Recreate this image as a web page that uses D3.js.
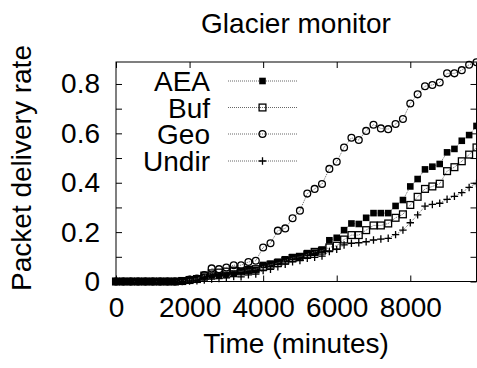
<!DOCTYPE html>
<html>
<head>
<meta charset="UTF-8">
<title>Glacier monitor</title>
<script src="https://d3js.org/d3.v7.min.js"></script>
<style>
  body { margin: 0; background: #fff; }
  svg { display: block; }
  text { font-family: "Liberation Sans", Arial, Helvetica, sans-serif; fill: #000; }
</style>
</head>
<body>
<svg id="chart" width="477" height="368"></svg>
<script>
// sample times (minutes)
var times = [0, 200, 400, 600, 800, 1000, 1200, 1400, 1600, 1800,
  2000, 2200, 2400, 2600, 2800, 3000, 3200, 3400, 3600, 3800,
  4000, 4200, 4400, 4600, 4800, 5000, 5200, 5400, 5600, 5800,
  6000, 6200, 6400, 6600, 6800, 7000, 7200, 7400, 7600, 7800,
  8000, 8200, 8400, 8600, 8800, 9000, 9200, 9400, 9600, 9800];

var aea = [0, 0, 0, 0, 0, 0, 0, 0, 0, 0.002,
  0.008, 0.01, 0.02, 0.024, 0.025, 0.027, 0.033, 0.042, 0.046, 0.047,
  0.067, 0.072, 0.08, 0.09, 0.099, 0.1, 0.115, 0.117, 0.129, 0.167,
  0.177, 0.208, 0.235, 0.233, 0.258, 0.277, 0.277, 0.277, 0.306, 0.33,
  0.385, 0.415, 0.454, 0.465, 0.476, 0.523, 0.537, 0.57, 0.593, 0.63];

var buf = [0, 0, 0, 0, 0, 0, 0, 0, 0, 0.002,
  0.006, 0.01, 0.024, 0.033, 0.036, 0.04, 0.044, 0.041, 0.047, 0.05,
  0.06, 0.068, 0.075, 0.085, 0.095, 0.1, 0.11, 0.12, 0.125, 0.138,
  0.145, 0.17, 0.188, 0.188, 0.208, 0.227, 0.227, 0.235, 0.258, 0.272,
  0.31, 0.343, 0.375, 0.385, 0.396, 0.447, 0.463, 0.487, 0.514, 0.543];

var geo = [0, 0, 0, 0, 0, 0, 0, 0, 0, 0.002,
  0.008, 0.012, 0.026, 0.053, 0.05, 0.057, 0.066, 0.066, 0.079, 0.084,
  0.138, 0.155, 0.206, 0.215, 0.256, 0.287, 0.356, 0.375, 0.395, 0.456,
  0.485, 0.543, 0.582, 0.573, 0.61, 0.635, 0.62, 0.617, 0.638, 0.658,
  0.721, 0.758, 0.791, 0.796, 0.806, 0.843, 0.843, 0.856, 0.878, 0.888];

var undir = [0, 0, 0, 0, 0, 0, 0, 0, 0, 0,
  0.002, 0.003, 0.006, 0.01, 0.012, 0.015, 0.02, 0.019, 0.027, 0.03,
  0.044, 0.049, 0.06, 0.07, 0.08, 0.085, 0.094, 0.098, 0.103, 0.121,
  0.13, 0.148, 0.155, 0.157, 0.161, 0.168, 0.172, 0.175, 0.19, 0.208,
  0.238, 0.27, 0.305, 0.312, 0.317, 0.333, 0.345, 0.36, 0.381, 0.397];

var seriesNames = ["AEA", "Buf", "Geo", "Undir"];
var seriesMarks = ["fsquare", "osquare", "circle", "plus"];
var xTicks = [0, 2000, 4000, 6000, 8000];
var yTicks = [0, 0.1, 0.2, 0.3, 0.4, 0.5, 0.6, 0.7, 0.8];
var yLabels = ["0", "0.2", "0.4", "0.6", "0.8"];

var allSeries = [aea, buf, geo, undir];

var svg = d3.select("#chart");
var pLeft = 116, pRight = 476.5, pTop = 62, pBottom = 281.5;
var fs = 28;

var x = d3.scaleLinear().domain([0, 9800]).range([pLeft, pRight]);
var y = d3.scaleLinear().domain([0, 0.889]).range([pBottom, pTop]);

function axisStyle(g) {
    g.select(".domain").remove();
    g.selectAll(".tick line").attr("stroke", "#000").attr("stroke-width", 1);
    g.selectAll("text").style("font-size", fs + "px").attr("fill", "#000")
        .style("font-family", "'Liberation Sans', Arial, sans-serif");
}

svg.append("g").attr("transform", "translate(0," + pBottom + ")")
    .call(d3.axisBottom(x).tickValues(xTicks).tickSize(-6).tickPadding(16).tickFormat(d3.format("d")))
    .call(axisStyle);
svg.append("g").attr("transform", "translate(0," + pTop + ")")
    .call(d3.axisTop(x).tickValues(xTicks).tickSize(-6).tickFormat(""))
    .call(axisStyle);
svg.append("g").attr("transform", "translate(" + pLeft + ",0)")
    .call(d3.axisLeft(y).tickValues(yTicks).tickSize(-6).tickPadding(16)
        .tickFormat(function (d) {
            var s = d3.format(".1f")(d);
            if (d === 0) s = "0";
            return yLabels.indexOf(s) >= 0 ? s : "";
        }))
    .call(axisStyle);
svg.append("g").attr("transform", "translate(" + pRight + ",0)")
    .call(d3.axisRight(y).tickValues(yTicks).tickSize(-6).tickFormat(""))
    .call(axisStyle);

// frame
svg.append("rect")
    .attr("x", pLeft).attr("y", pTop)
    .attr("width", pRight - pLeft).attr("height", pBottom - pTop)
    .attr("fill", "none").attr("stroke", "#000").attr("stroke-width", 1);

function drawMark(g, kind, cx, cy) {
    if (kind == "fsquare") {
        g.append("rect").attr("x", cx - 3.3).attr("y", cy - 3.3).attr("width", 6.6).attr("height", 6.6)
            .attr("fill", "#000");
    } else if (kind == "osquare") {
        g.append("rect").attr("x", cx - 3.4).attr("y", cy - 3.4).attr("width", 6.8).attr("height", 6.8)
            .attr("fill", "none").attr("stroke", "#000").attr("stroke-width", 1.3);
    } else if (kind == "circle") {
        g.append("circle").attr("cx", cx).attr("cy", cy).attr("r", 3.4)
            .attr("fill", "none").attr("stroke", "#000").attr("stroke-width", 1.3);
    } else {
        g.append("path").attr("d", "M" + (cx - 3.7) + "," + cy + "H" + (cx + 3.7) +
            "M" + cx + "," + (cy - 3.7) + "V" + (cy + 3.7))
            .attr("stroke", "#000").attr("stroke-width", 1.3);
    }
}

var line = d3.line()
    .x(function (d, i) { return x(times[i]); })
    .y(function (d) { return y(d); });

var plot = svg.append("g");
allSeries.forEach(function (vals, k) {
    plot.append("path").attr("d", line(vals))
        .attr("fill", "none").attr("stroke", "#666").attr("stroke-width", 1)
        .attr("stroke-dasharray", "1,1");
    var mg = plot.append("g");
    vals.forEach(function (v, i) {
        drawMark(mg, seriesMarks[k], x(times[i]), y(v));
    });
});

// legend
var legY = [81, 107.5, 134, 161];
var legend = svg.append("g");
seriesNames.forEach(function (name, k) {
    legend.append("text").attr("x", 210).attr("y", legY[k] + 10)
        .attr("text-anchor", "end").style("font-size", fs + "px").text(name);
    legend.append("line").attr("x1", 228).attr("x2", 297)
        .attr("y1", legY[k]).attr("y2", legY[k])
        .attr("stroke", "#666").attr("stroke-width", 1).attr("stroke-dasharray", "1,1");
    drawMark(legend, seriesMarks[k], 262.5, legY[k]);
});

// titles
svg.append("text").attr("x", 296).attr("y", 33).attr("text-anchor", "middle")
    .style("font-size", fs + "px").text("Glacier monitor");
svg.append("text").attr("x", 296).attr("y", 353).attr("text-anchor", "middle")
    .style("font-size", fs + "px").text("Time (minutes)");
svg.append("text").attr("transform", "translate(31,168) rotate(-90)")
    .attr("text-anchor", "middle").style("font-size", fs + "px").text("Packet delivery rate");
</script>
</body>
</html>
